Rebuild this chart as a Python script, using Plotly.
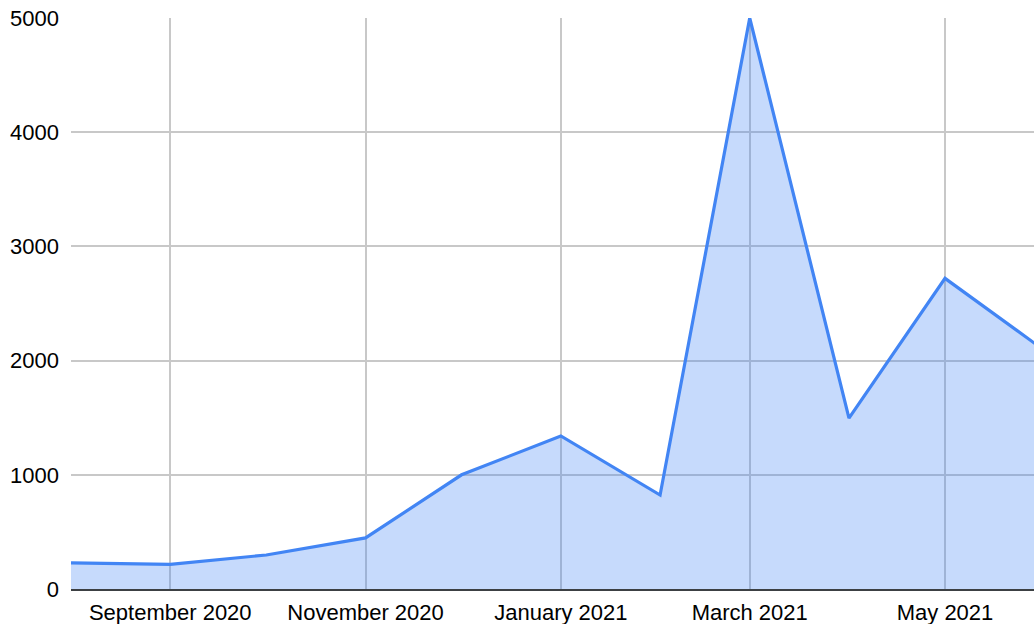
import plotly.graph_objects as go

months = ["2020-08-01", "2020-09-01", "2020-10-01", "2020-11-01", "2020-12-01",
          "2021-01-01", "2021-02-01", "2021-03-01", "2021-04-01", "2021-05-01", "2021-06-01"]
values = [228, 215, 298, 447, 1000, 1340, 823, 5000, 1497, 2720, 2090]

y_ticks = [0, 1000, 2000, 3000, 4000, 5000]

fig = go.Figure()
fig.add_trace(go.Scatter(
    x=months, y=values, mode="lines",
    line=dict(color="#4285f4", width=3.2),
    fill="tozeroy", fillcolor="rgba(66,133,244,0.3)",
    hoverinfo="skip",
))

fig.update_layout(
    width=1034, height=624,
    margin=dict(l=71, r=0, t=18, b=35),
    paper_bgcolor="white", plot_bgcolor="white",
    showlegend=False,
    font=dict(family="Liberation Sans, Arial, sans-serif", size=22, color="#000000"),
    xaxis=dict(
        type="date",
        range=["2020-08-01", "2021-05-28 19:00"],
        tick0="2020-09-01", dtick="M2", tickformat="%B %Y",
        showgrid=True, gridcolor="#c8c8c8", gridwidth=1.5,
        showline=True, linecolor="#3c4043", linewidth=2,
        ticks="", zeroline=False, ticklabelstandoff=3,
    ),
    yaxis=dict(
        range=[0, 5000], tickvals=y_ticks,
        showgrid=True, gridcolor="#c8c8c8", gridwidth=1.5,
        zeroline=False, showline=False, ticks="",
        ticklabelstandoff=11,
    ),
)

fig.write_html("out.html")
